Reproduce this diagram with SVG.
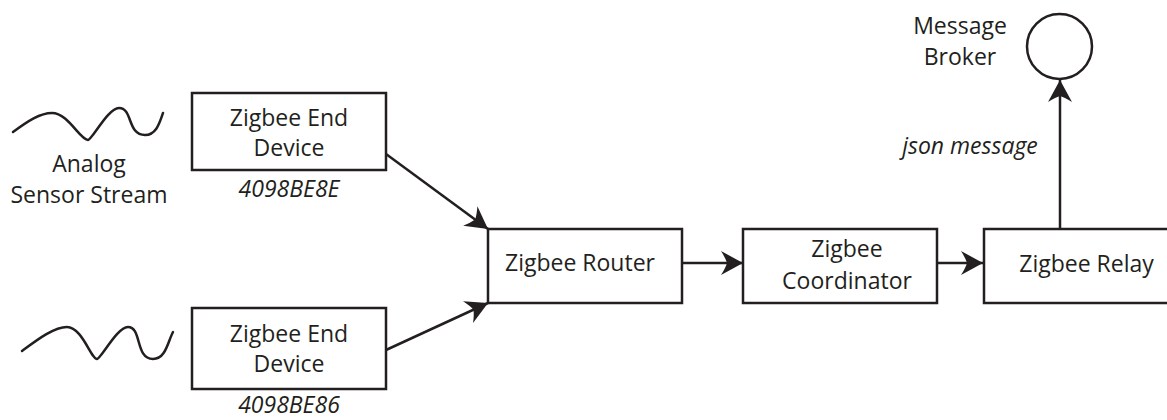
<svg xmlns="http://www.w3.org/2000/svg" width="1167" height="420" viewBox="0 0 1167 420">
<style>
.box{fill:#fff;stroke:#231f20;stroke-width:2.5}
.ln{fill:none;stroke:#231f20;stroke-width:2.5}
.wave{fill:none;stroke:#231f20;stroke-width:2.5;stroke-linecap:round}
text{font-family:"Open Sans","Noto Sans","Liberation Sans",sans-serif;font-size:23px;fill:#231f20;text-anchor:middle}
.it{font-style:italic}
</style>
<defs>
<marker id="ah" viewBox="-23 -13 24 26" refX="0" refY="0" markerWidth="24" markerHeight="26" markerUnits="userSpaceOnUse" orient="auto">
<path d="M0,0 L-22,-12 Q-17.5,-5 -16,0 Q-17.5,5 -22,12 Z" fill="#231f20"/>
</marker>
</defs>
<rect width="1167" height="420" fill="#fff"/>
<g id="sensor1">
<path class="wave" d="M13,132 C28,121 40,113 52,113 C68,113 80,140 88,140 C92,140 108,108 119,108 C133,108 127,135 145,135 C157,135 160,121 163,113"/>
<text x="89" y="171.5">Analog</text>
<text x="89" y="202.5">Sensor Stream</text>
</g>
<g id="sensor2">
<path class="wave" d="M22,351 C37,340 54,327 67,327 C82,327 91,359 97,359 C101,359 117,327 128,327 C142,327 135,359 153,359 C166,359 168,341 173,332"/>
</g>
<g id="enddevice1">
<rect class="box" x="192" y="93" width="194" height="77"/>
<text x="289" y="126">Zigbee End</text>
<text x="289" y="156">Device</text>
<text class="it" x="289" y="197">4098BE8E</text>
</g>
<g id="enddevice2">
<rect class="box" x="192" y="308" width="194" height="81"/>
<text x="289" y="342">Zigbee End</text>
<text x="289" y="372">Device</text>
<text class="it" x="289" y="413">4098BE86</text>
</g>
<g id="router">
<rect class="box" x="488" y="229" width="194" height="74"/>
<text x="580" y="271">Zigbee Router</text>
</g>
<g id="coordinator">
<rect class="box" x="743" y="229" width="194" height="74"/>
<text x="847" y="257">Zigbee</text>
<text x="847" y="289">Coordinator</text>
</g>
<g id="relay">
<rect class="box" x="984" y="229" width="200" height="74"/>
<text x="1086.5" y="272">Zigbee Relay</text>
</g>
<g id="broker">
<circle class="ln" cx="1059.5" cy="46.5" r="32.5"/>
<text x="960" y="33.5">Message</text>
<text x="960" y="65">Broker</text>
</g>
<g id="connectors">
<line class="ln" x1="386" y1="154" x2="488" y2="229" marker-end="url(#ah)"/>
<line class="ln" x1="386" y1="350" x2="488" y2="303" marker-end="url(#ah)"/>
<line class="ln" x1="682" y1="263" x2="743" y2="263" marker-end="url(#ah)"/>
<line class="ln" x1="937" y1="263" x2="983" y2="263" marker-end="url(#ah)"/>
<line class="ln" x1="1060" y1="229" x2="1060" y2="80" marker-end="url(#ah)"/>
<text class="it" x="970" y="154">json message</text>
</g>
</svg>
